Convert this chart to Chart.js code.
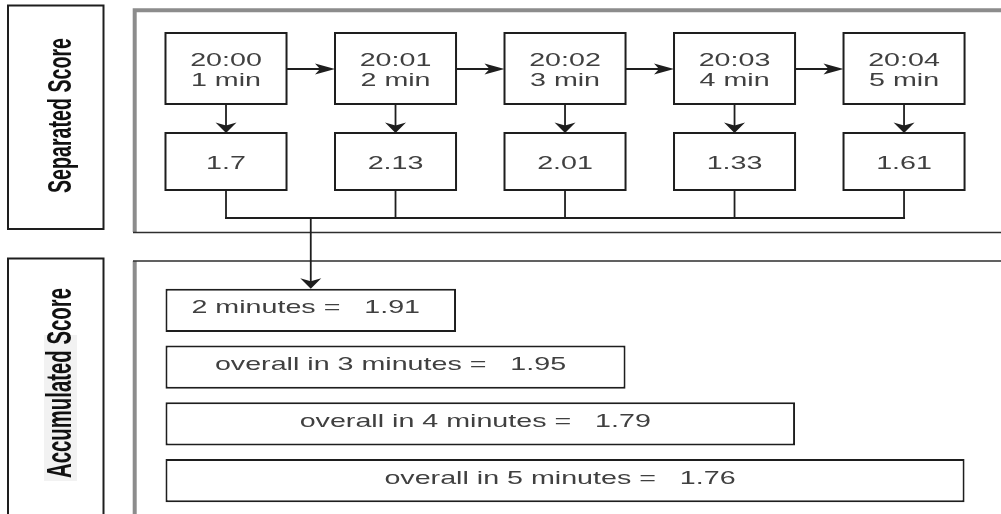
<!DOCTYPE html>
<html>
<head>
<meta charset="utf-8">
<script src="https://cdn.jsdelivr.net/npm/chart.js@4/dist/chart.umd.min.js"></script>
<style>
html,body{margin:0;padding:0;background:#fff;}
#wrap{width:1001px;height:514px;position:relative;}
</style>
</head>
<body>
<div id="wrap"><canvas id="c"></canvas></div>
<script>
// ---- data ----
const sectionTitles = ['Separated Score', 'Accumulated Score'];
const times = ['20:00', '20:01', '20:02', '20:03', '20:04'];
const durations = ['1 min', '2 min', '3 min', '4 min', '5 min'];
const separatedScores = [1.7, 2.13, 2.01, 1.33, 1.61];
const accMinutes = [2, 3, 4, 5];
const accLabels = ['2 minutes =', 'overall in 3 minutes =', 'overall in 4 minutes =', 'overall in 5 minutes ='];
const accScores = [1.91, 1.95, 1.79, 1.76];

// ---- style / layout constants ----
const HALF = 0.357;          // half box width in slot units
const DARK = '#1e1e1e';
const TXT = '#404040';
const GRAY = '#8c8c8c';
const FONT = '17.7px "Liberation Sans", Arial, sans-serif';
const STRETCH = 1.62;        // horizontal stretch of the original drawing

function hText(ctx, text, cx, by) {
  ctx.save();
  ctx.translate(cx, by);
  ctx.scale(STRETCH, 1);
  ctx.font = FONT;
  ctx.fillStyle = TXT;
  ctx.textAlign = 'center';
  ctx.textBaseline = 'alphabetic';
  ctx.fillText(text, 0, 0);
  ctx.restore();
}

function arrowHead(ctx, x, y, dir) {
  ctx.beginPath();
  if (dir === 'down') {
    ctx.moveTo(x, y); ctx.lineTo(x - 10.5, y - 10.5); ctx.lineTo(x, y - 7.5); ctx.lineTo(x + 10.5, y - 10.5);
  } else {
    ctx.moveTo(x, y); ctx.lineTo(x - 20, y - 5.5); ctx.lineTo(x - 15, y); ctx.lineTo(x - 20, y + 5.5);
  }
  ctx.closePath();
  ctx.fillStyle = DARK;
  ctx.fill();
}

function vertTitle(ctx, text, baseX, cy, len, capH) {
  ctx.save();
  ctx.translate(baseX, cy);
  ctx.rotate(-Math.PI / 2);
  const F = 22;
  ctx.font = 'bold ' + F + 'px "Liberation Sans", Arial, sans-serif';
  const w = ctx.measureText(text).width;
  ctx.scale(len / w, capH / (0.716 * F));
  ctx.fillStyle = '#111';
  ctx.textAlign = 'center';
  ctx.textBaseline = 'alphabetic';
  ctx.fillText(text, 0, 0);
  ctx.restore();
}

const diagramPlugin = {
  id: 'diagram',
  beforeDatasetsDraw(chart) {
    const ctx = chart.ctx;
    const x = chart.scales.x;
    ctx.save();
    ctx.lineCap = 'butt';
    // section label boxes
    ctx.strokeStyle = DARK; ctx.lineWidth = 2;
    ctx.strokeRect(8, 5.5, 95.5, 223.5);
    ctx.strokeRect(8, 258.5, 95.5, 270);
    // light highlight behind second title
    ctx.fillStyle = '#f2f2f2';
    ctx.fillRect(44, 335, 33, 146);
    vertTitle(ctx, sectionTitles[0], 71, 115.5, 155, 24);
    vertTitle(ctx, sectionTitles[1], 71, 383, 190, 25);

    // containers
    ctx.strokeStyle = GRAY; ctx.lineWidth = 4;
    ctx.beginPath();
    ctx.moveTo(1010, 10.3); ctx.lineTo(134.7, 10.3); ctx.lineTo(134.7, 232);
    ctx.moveTo(134.7, 261); ctx.lineTo(134.7, 520);
    ctx.stroke();
    ctx.strokeStyle = '#2e2e2e'; ctx.lineWidth = 1.6;
    ctx.beginPath();
    ctx.moveTo(133, 232.5); ctx.lineTo(1010, 232.5);
    ctx.moveTo(133, 261); ctx.lineTo(1010, 261);
    ctx.stroke();

    // top boxes
    const halfPx = x.getPixelForValue(HALF) - x.getPixelForValue(0);
    const topY = 33, topH = 71, scoreY = 133, scoreH = 57, joinY = 218;
    times.forEach((t, i) => {
      const cx = x.getPixelForValue(i);
      ctx.strokeStyle = DARK;
      ctx.lineWidth = 2;
      ctx.fillStyle = '#fff';
      ctx.fillRect(cx - halfPx, topY, halfPx * 2, topH);
      ctx.strokeRect(cx - halfPx, topY, halfPx * 2, topH);
      ctx.fillRect(cx - halfPx, scoreY, halfPx * 2, scoreH);
      ctx.strokeRect(cx - halfPx, scoreY, halfPx * 2, scoreH);
      hText(ctx, t, cx, 66);
      hText(ctx, durations[i], cx, 86);
      hText(ctx, String(separatedScores[i]), cx, 168.5);
      ctx.lineWidth = 1.8;
      // down arrow
      ctx.beginPath(); ctx.moveTo(cx, topY + topH); ctx.lineTo(cx, scoreY - 6); ctx.stroke();
      arrowHead(ctx, cx, scoreY, 'down');
      // connector
      ctx.beginPath(); ctx.moveTo(cx, scoreY + scoreH); ctx.lineTo(cx, joinY); ctx.stroke();
      // right arrow
      if (i < times.length - 1) {
        const nx = x.getPixelForValue(i + 1) - halfPx;
        ctx.beginPath(); ctx.moveTo(cx + halfPx, 69); ctx.lineTo(nx - 14, 69); ctx.stroke();
        arrowHead(ctx, nx, 69, 'right');
      }
    });
    ctx.lineWidth = 1.8; ctx.strokeStyle = DARK;
    const x0 = x.getPixelForValue(0), x4 = x.getPixelForValue(times.length - 1);
    ctx.beginPath(); ctx.moveTo(x0 - 1, joinY); ctx.lineTo(x4 + 1, joinY); ctx.stroke();
    // trunk to accumulated
    const bar0 = chart.getDatasetMeta(0).data[0];
    const trunkX = x.getPixelForValue(0.5);
    const barTop = bar0.y - bar0.height / 2;
    ctx.beginPath(); ctx.moveTo(trunkX, joinY); ctx.lineTo(trunkX, barTop - 6); ctx.stroke();
    arrowHead(ctx, trunkX, barTop, 'down');
    ctx.restore();
  },
  afterDatasetsDraw(chart) {
    const ctx = chart.ctx;
    chart.getDatasetMeta(0).data.forEach((bar, i) => {
      const cx = (bar.base + bar.x) / 2 - 5;
      hText(ctx, accLabels[i] + '   ' + accScores[i], cx, bar.y + 3);
    });
  }
};

new Chart(document.getElementById('c'), {
  type: 'bar',
  data: {
    labels: accLabels,
    datasets: [{
      label: sectionTitles[1],
      data: accMinutes.map(m => [-HALF, (m - 1) + HALF]),
      backgroundColor: '#ffffff',
      borderColor: DARK,
      borderWidth: 2,
      borderSkipped: false,
      barPercentage: 0.76,
      categoryPercentage: 1
    }]
  },
  options: {
    indexAxis: 'y',
    responsive: true,
    maintainAspectRatio: false,
    animation: false,
    devicePixelRatio: 1,
    layout: { padding: { top: 282, bottom: 5, left: 0, right: 0 } },
    plugins: { legend: { display: false }, tooltip: { enabled: false }, title: { display: false } },
    scales: {
      x: { type: 'linear', min: -1.3333, max: 4.572, display: false },
      y: { type: 'category', display: false }
    }
  },
  plugins: [diagramPlugin]
});
</script>
</body>
</html>
